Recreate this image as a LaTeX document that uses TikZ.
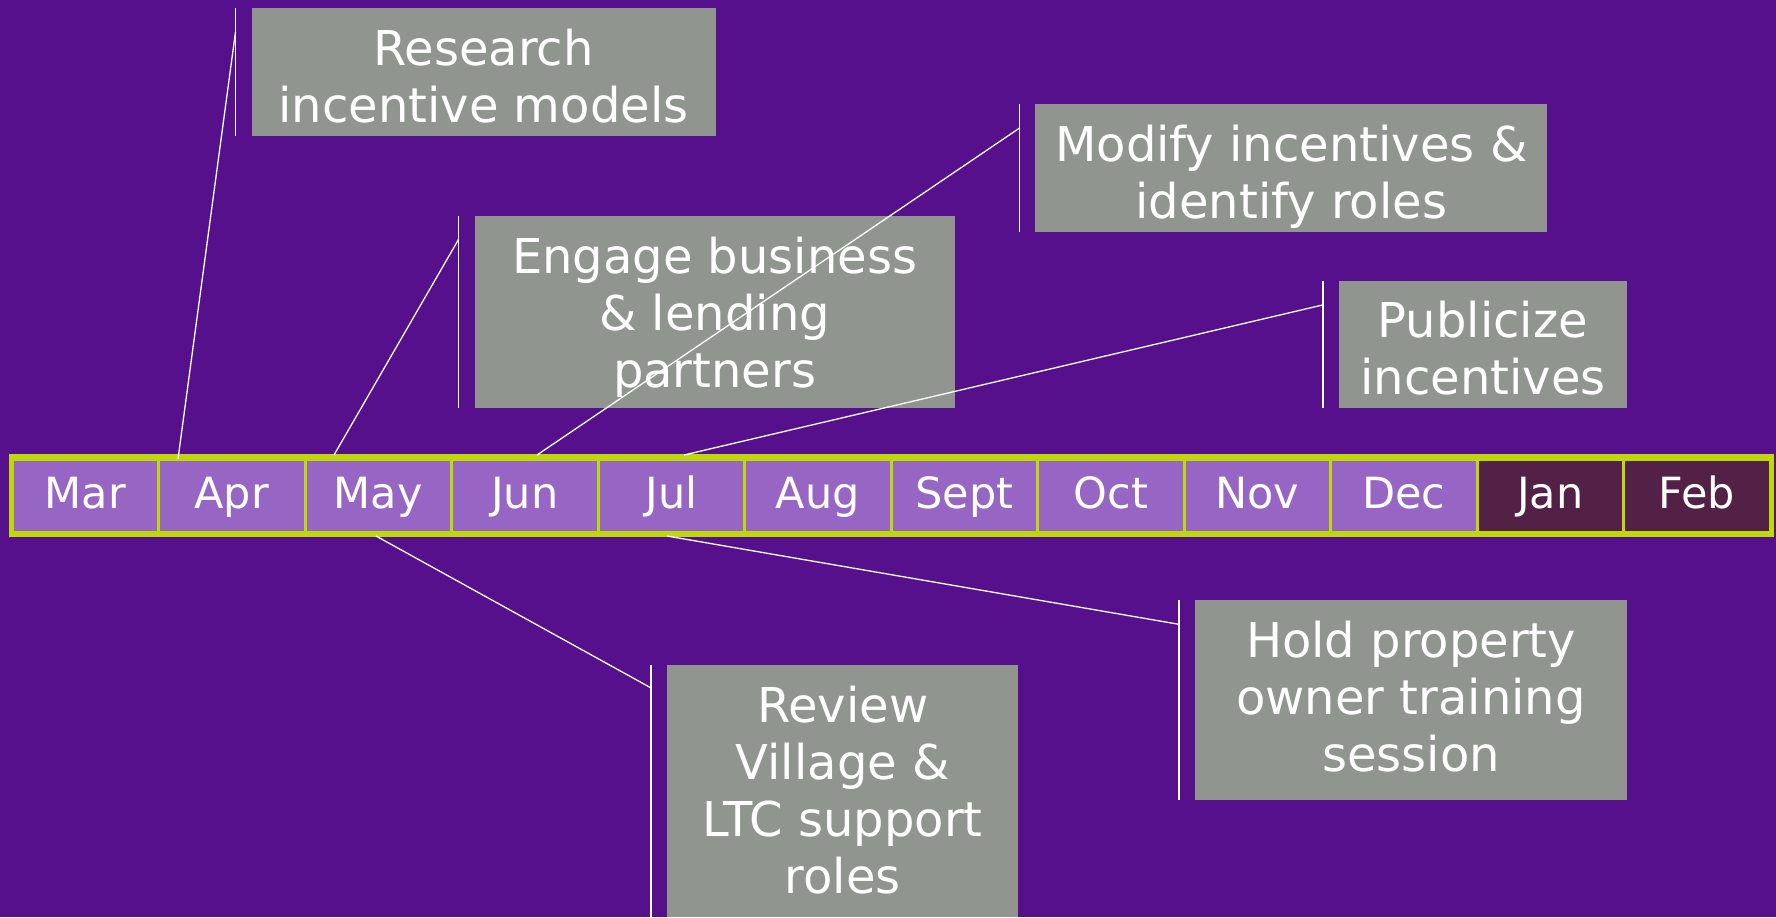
\documentclass[tikz,border=0pt]{standalone}
\usepackage{fontspec}
\setmainfont{DejaVu Sans}
\usetikzlibrary{calc}

\definecolor{slidebg}{RGB}{86,16,139}
\definecolor{monthcell}{RGB}{151,102,196}
\definecolor{latecell}{RGB}{84,33,70}
\definecolor{barline}{RGB}{190,216,10}
\definecolor{taskgrey}{RGB}{145,149,144}

% grey task box: width, height, lines (first baseline fixed from the top)
\newcommand{\tasklines}[3]{\parbox[c][#2][t]{#1}{\centering\rule{0pt}{28.5pt}#3}}

\tikzset{
  month/.style={font=\fontsize{21.5}{26}\selectfont, fill=monthcell,
    draw=barline, line width=1.5pt, minimum width=73.25pt,
    minimum height=36.5pt, inner sep=0pt, outer sep=0pt, text=white,
    text height=17pt, text depth=4.2pt},
  task/.style={font=\fontsize{24}{28.5}\selectfont, fill=taskgrey,
    anchor=north west, text=white, inner sep=0pt, outer sep=0pt},
  rule/.style={draw=white, line width=0.8pt},
  leader/.style={draw=white, line width=0.65pt},
}

\begin{document}
\begin{tikzpicture}[x=0.5pt,y=-0.5pt]
  % background
  \fill[slidebg] (0,0) rectangle (1776,917);
  \useasboundingbox (0,0) rectangle (1776,917);

  % months bar
  \foreach \m/\c [count=\i] in {Mar/monthcell,Apr/monthcell,May/monthcell,
      Jun/monthcell,Jul/monthcell,Aug/monthcell,Sept/monthcell,Oct/monthcell,
      Nov/monthcell,Dec/monthcell,Jan/latecell,Feb/latecell}
    \node[month, fill=\c] (\m) at ({12+146.5*(\i-0.5)},495.5) {\m};
  \draw[barline, line width=2.5pt] ($(Mar.north west)+(-0.5,-2.5)$)
    rectangle ($(Feb.south east)+(1.5,2.5)$);

  % tasks
  \node[task] (research) at (251.5,8)
    {\tasklines{232pt}{64pt}{Research\\incentive models}};
  \node[task] (engage) at (474.6,216.3)
    {\tasklines{240pt}{96pt}{Engage business\\\& lending\\partners}};
  \node[task] (modify) at (1035.3,104.2)
    {\tasklines{256pt}{64pt}{Modify incentives \&\\identify roles}};
  \node[task] (publicize) at (1338.9,280.9)
    {\tasklines{144pt}{63.5pt}{Publicize\\incentives}};
  \node[task] (hold) at (1195,600.3)
    {\tasklines{216pt}{100pt}{Hold property\\owner training\\session}};
  \node[task] (review) at (667.2,665)
    {\tasklines{175.5pt}{126pt}{Review\\Village \&\\LTC support\\roles}};

  \foreach \t in {research,engage,modify,publicize,hold,review}
    \draw[rule] ([xshift=-8pt]\t.north west) -- ([xshift=-8pt]\t.south west);

  % leader lines
  \coordinate (aprtop) at (178,459);
  \coordinate (maytop) at (334,455);
  \coordinate (juntop) at (537,455);
  \coordinate (jultop) at (684,455);
  \coordinate (julbot) at (667,536);
  \coordinate (maybot) at (376,536);

  \draw[leader] (aprtop) -- ([xshift=-8pt,yshift=-12pt]research.north west);
  \draw[leader] (maytop) -- ([xshift=-8pt,yshift=-11.5pt]engage.north west);
  \draw[leader] (juntop) -- ([xshift=-8pt,yshift=-12pt]modify.north west);
  \draw[leader] (jultop) -- ([xshift=-8pt,yshift=-12pt]publicize.north west);
  \draw[leader] (julbot) -- ([xshift=-8pt,yshift=-12pt]hold.north west);
  \draw[leader] (maybot) -- ([xshift=-8pt,yshift=-11.5pt]review.north west);
\end{tikzpicture}
\end{document}
